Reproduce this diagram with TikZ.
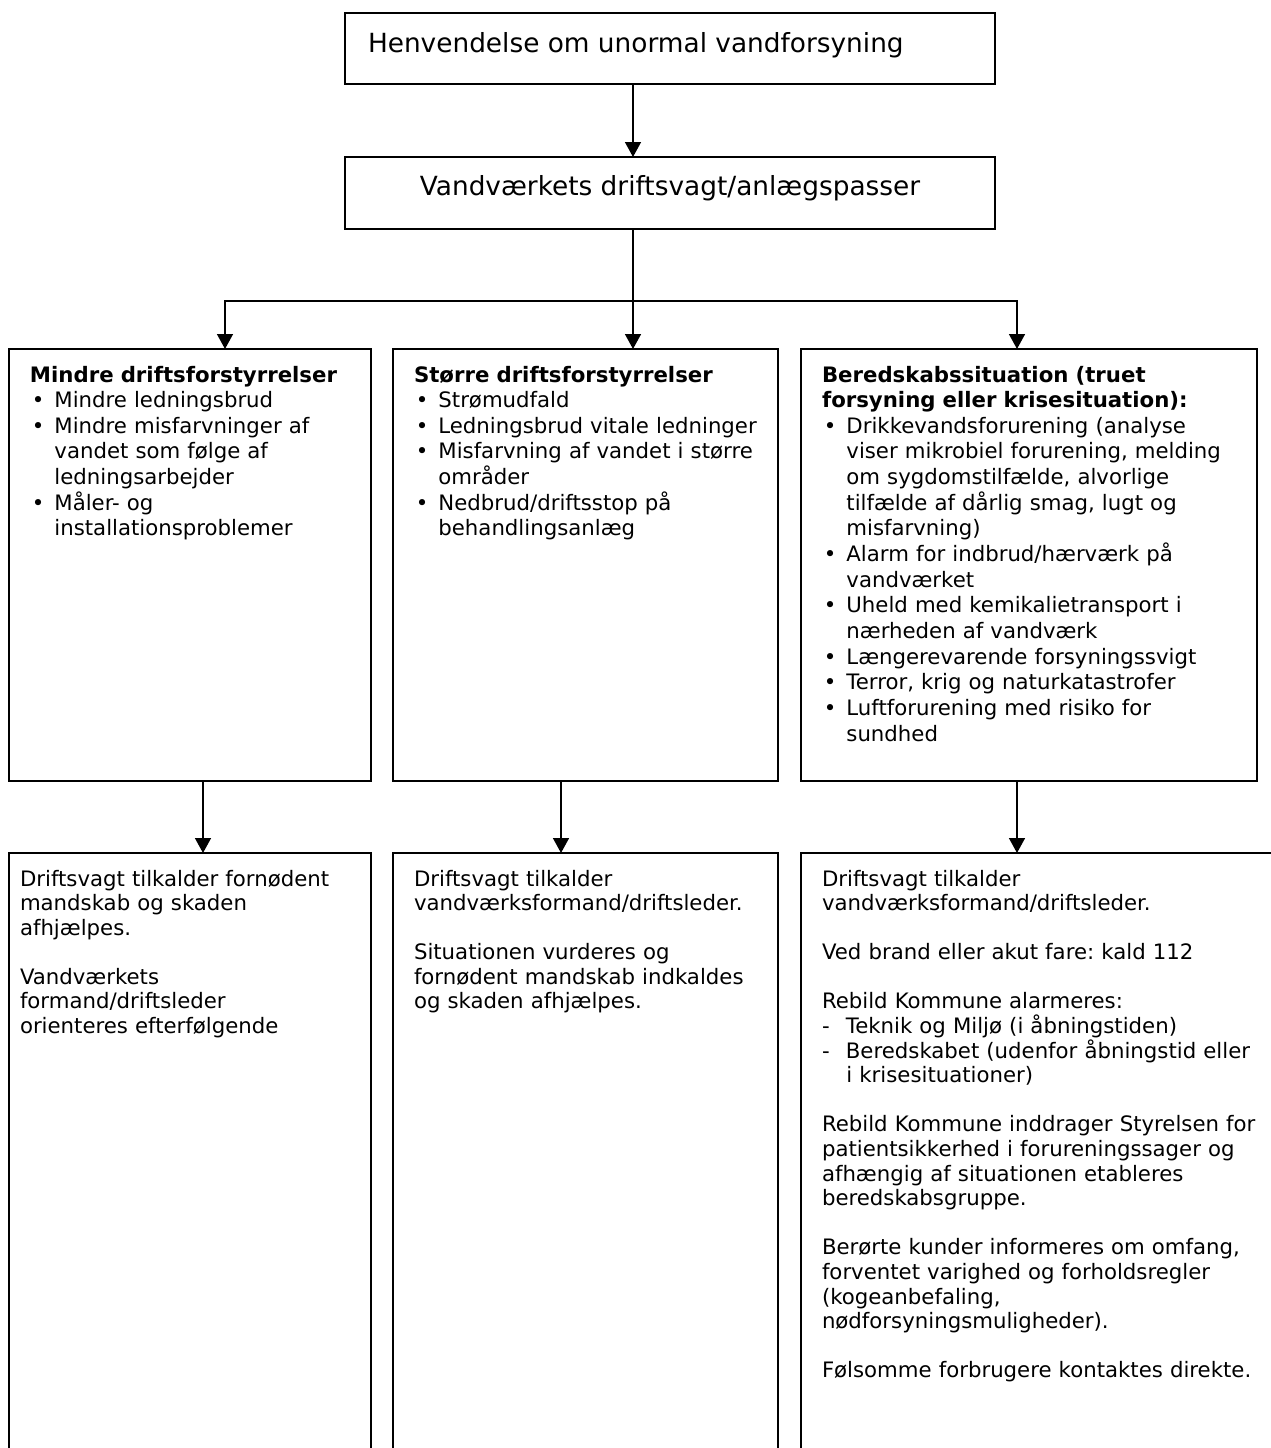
\documentclass[tikz,border=0pt]{standalone}
\usepackage{fontspec}
\setmainfont{DejaVu Sans}
\usetikzlibrary{arrows.meta}
\newcommand\bullitem{\makebox[13.9pt][l]{\hspace*{1pt}•}}
\newcommand\hangind{\hspace*{13.9pt}}
\newcommand\dashitem{\makebox[13.6pt][l]{-}}
\frenchspacing
\begin{document}
\begin{tikzpicture}[x=0.02cm,y=-0.02cm,
  box/.style={draw, line width=1.1pt, rectangle, anchor=north west, inner sep=0pt, outer sep=0pt},
  txt/.style={anchor=base west, inner sep=0pt, outer sep=0pt, align=left, font=\fontsize{12.1pt}{14.6pt}\selectfont\frenchspacing},
  btxt/.style={txt, font=\fontsize{12.1pt}{14.0pt}\selectfont\frenchspacing},
  big/.style={inner sep=0pt, outer sep=0pt, font=\fontsize{15pt}{18pt}\selectfont},
  link/.style={line width=1.1pt, line cap=rect},
  arr/.style={line width=1.1pt, -{Triangle[width=9pt,length=8.5pt]}}]
\useasboundingbox (0,0) rectangle (1271,1448);
\clip (0,0) rectangle (1271,1448);

% boxes
\node[box, minimum width=13cm, minimum height=1.42cm] (top) at (345,13) {};
\node[box, minimum width=13cm, minimum height=1.44cm] (box2) at (345,157) {};
\node[box, minimum width=7.24cm, minimum height=8.64cm] (rowL) at (9,349) {};
\node[box, minimum width=7.7cm, minimum height=8.64cm] (rowM) at (393,349) {};
\node[box, minimum width=9.12cm, minimum height=8.64cm] (rowR) at (801,349) {};
\node[box, minimum width=7.24cm, minimum height=12.4cm] (botL) at (9,853) {};
\node[box, minimum width=7.7cm, minimum height=12.4cm] (botM) at (393,853) {};
\node[box, minimum width=10cm, minimum height=12.4cm] (botR) at (801,853) {};

% texts
\node[big, anchor=base west] (t1) at (368,52) {Henvendelse om unormal vandforsyning};
\node[big, anchor=base] (t2) at (670,195) {Vandværkets driftsvagt/anlægspasser};

\node[txt, text width=6.8cm] (tL) at (30,382) {\textbf{Mindre driftsforstyrrelser}\\
\bullitem Mindre ledningsbrud\\
\bullitem Mindre misfarvninger af\\
\hangind vandet som følge af\\
\hangind ledningsarbejder\\
\bullitem Måler- og\\
\hangind installationsproblemer};

\node[txt, text width=7.2cm] (tM) at (414,382) {\textbf{Større driftsforstyrrelser}\\
\bullitem Strømudfald\\
\bullitem Ledningsbrud vitale ledninger\\
\bullitem Misfarvning af vandet i større\\
\hangind områder\\
\bullitem Nedbrud/driftsstop på\\
\hangind behandlingsanlæg};

\node[txt, text width=8.7cm] (tR) at (822,382) {\textbf{Beredskabssituation (truet}\\
\textbf{forsyning eller krisesituation):}\\
\bullitem Drikkevandsforurening (analyse\\
\hangind viser mikrobiel forurening, melding\\
\hangind om sygdomstilfælde, alvorlige\\
\hangind tilfælde af dårlig smag, lugt og\\
\hangind misfarvning)\\
\bullitem Alarm for indbrud/hærværk på\\
\hangind vandværket\\
\bullitem Uheld med kemikalietransport i\\
\hangind nærheden af vandværk\\
\bullitem Længerevarende forsyningssvigt\\
\bullitem Terror, krig og naturkatastrofer\\
\bullitem Luftforurening med risiko for\\
\hangind sundhed};

\node[btxt, text width=7cm] (bL) at (20,886) {Driftsvagt tilkalder fornødent\\
mandskab og skaden\\
afhjælpes.\\[14.0pt]
Vandværkets\\
formand/driftsleder\\
orienteres efterfølgende};

\node[btxt, text width=7.2cm] (bM) at (414,886) {Driftsvagt tilkalder\\
vandværksformand/driftsleder.\\[14.0pt]
Situationen vurderes og\\
fornødent mandskab indkaldes\\
og skaden afhjælpes.};

\node[btxt, text width=8.9cm] (bR) at (822,886) {Driftsvagt tilkalder\\
vandværksformand/driftsleder.\\[14.0pt]
Ved brand eller akut fare: kald 112\\[14.0pt]
Rebild Kommune alarmeres:\\
\dashitem Teknik og Miljø (i åbningstiden)\\
\dashitem Beredskabet (udenfor åbningstid eller\\
\hangind i krisesituationer)\\[14.0pt]
Rebild Kommune inddrager Styrelsen for\\
patientsikkerhed i forureningssager og\\
afhængig af situationen etableres\\
beredskabsgruppe.\\[14.0pt]
Berørte kunder informeres om omfang,\\
forventet varighed og forholdsregler\\
(kogeanbefaling,\\
nødforsyningsmuligheder).\\[14.0pt]
Følsomme forbrugere kontaktes direkte.};

% connectors
\coordinate (cx) at (633,0);
\coordinate (fork) at (633,301);
\coordinate (fL) at (225,301);
\coordinate (fR) at (1017,301);
\coordinate (dL) at (203,0);
\coordinate (dM) at (561,0);
\coordinate (dR) at (1017,0);
\draw[arr] (top.south -| cx) -- (box2.north -| cx);
\draw[link] (box2.south -| cx) -- (fork);
\draw[link] (fL) -- (fR);
\draw[arr] (fL) -- (fL |- rowL.north);
\draw[arr] (fork) -- (fork |- rowM.north);
\draw[arr] (fR) -- (fR |- rowR.north);
\draw[arr] (rowL.south -| dL) -- (botL.north -| dL);
\draw[arr] (rowM.south -| dM) -- (botM.north -| dM);
\draw[arr] (rowR.south -| dR) -- (botR.north -| dR);
\end{tikzpicture}
\end{document}
